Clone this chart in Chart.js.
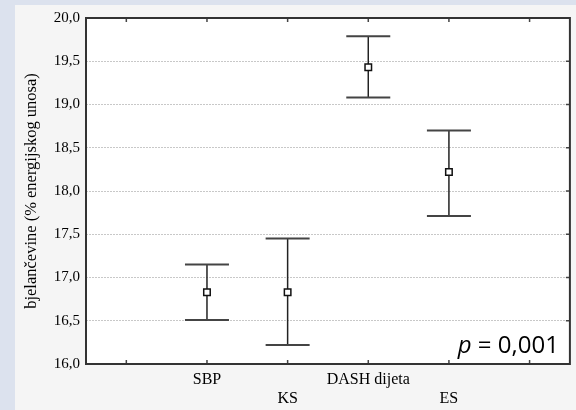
<!DOCTYPE html>
<html>
<head>
<meta charset="utf-8">
<script src="https://cdn.jsdelivr.net/npm/chart.js@4/dist/chart.umd.min.js"></script>
<style>
  html, body { margin: 0; padding: 0; background: #dce2ee; }
  #wrap { width: 576px; height: 410px; }
</style>
</head>
<body>
<div id="wrap"><canvas id="c" width="576" height="410"></canvas></div>
<script>
// grupe prehrane
const categories = ['SBP', 'KS', 'DASH dijeta', 'ES'];
const positions = [1, 2, 3, 4];
// srednje vrijednosti i granice intervala
const means = [16.83, 16.83, 19.43, 18.22];
const lower = [16.51, 16.22, 19.08, 17.71];
const upper = [17.15, 17.45, 19.79, 18.70];
const yTicks = [16.0, 16.5, 17.0, 17.5, 18.0, 18.5, 19.0, 19.5, 20.0];
const pText = '= 0,001';

const serif = '"Liberation Serif", "DejaVu Serif", serif';

// pozadina, okvir, kvačice i intervali
const framePlugin = {
  id: 'frame',
  beforeDraw(chart) {
    const { ctx, chartArea: a, width, height } = chart;
    ctx.save();
    ctx.fillStyle = '#dce2ee';
    ctx.fillRect(0, 0, width, height);
    ctx.fillStyle = '#f5f5f5';
    ctx.fillRect(15, 5, width - 15, height - 5);
    ctx.fillStyle = '#ffffff';
    ctx.fillRect(a.left, a.top, a.right - a.left, a.bottom - a.top);
    ctx.restore();
  },
  beforeDatasetsDraw(chart) {
    const { ctx, scales } = chart;
    const x = scales.x, y = scales.y;
    ctx.save();
    positions.forEach((p, i) => {
      const px = x.getPixelForValue(p);
      const hi = y.getPixelForValue(upper[i]);
      const lo = y.getPixelForValue(lower[i]);
      ctx.strokeStyle = '#222';
      ctx.lineWidth = 1.5;
      ctx.beginPath();
      ctx.moveTo(px, hi);
      ctx.lineTo(px, lo);
      ctx.stroke();
      ctx.strokeStyle = '#444';
      ctx.lineWidth = 2;
      ctx.beginPath();
      ctx.moveTo(px - 22, hi); ctx.lineTo(px + 22, hi);
      ctx.moveTo(px - 22, lo); ctx.lineTo(px + 22, lo);
      ctx.stroke();
    });
    ctx.restore();
  },
  afterDraw(chart) {
    const { ctx, chartArea: a, scales } = chart;
    const x = scales.x, y = scales.y;
    ctx.save();
    ctx.strokeStyle = '#444';
    ctx.lineWidth = 1.5;
    // kvačice
    ctx.beginPath();
    for (let v = 0; v <= 5; v++) {
      const px = x.getPixelForValue(v);
      ctx.moveTo(px, a.bottom); ctx.lineTo(px, a.bottom - 4);
      ctx.moveTo(px, a.top); ctx.lineTo(px, a.top + 4);
    }
    yTicks.forEach(v => {
      const py = y.getPixelForValue(v);
      ctx.moveTo(a.right, py); ctx.lineTo(a.right - 4, py);
    });
    ctx.stroke();
    // okvir
    ctx.strokeStyle = '#333';
    ctx.lineWidth = 2;
    ctx.strokeRect(a.left, a.top, a.right - a.left, a.bottom - a.top);

    // p vrijednost
    ctx.fillStyle = '#000';
    ctx.textBaseline = 'alphabetic';
    ctx.font = '24px "Open Sans", sans-serif';
    const restW = ctx.measureText(' ' + pText).width;
    ctx.textAlign = 'right';
    const xr = a.right - 11, yb = a.bottom - 11;
    ctx.fillText(' ' + pText, xr, yb);
    ctx.font = 'italic 24px "Open Sans", sans-serif';
    ctx.fillText('p', xr - restW, yb);
    ctx.restore();
  }
};

new Chart(document.getElementById('c'), {
  type: 'scatter',
  data: {
    datasets: [{
      data: positions.map((p, i) => ({ x: p, y: means[i] })),
      pointStyle: 'rect',
      pointRadius: 4.6,
      pointHoverRadius: 4.6,
      pointBackgroundColor: '#ffffff',
      pointBorderColor: '#111',
      pointBorderWidth: 1.5
    }]
  },
  options: {
    responsive: false,
    animation: false,
    layout: { padding: { left: 0, top: 18, right: 1, bottom: 0 } },
    plugins: { legend: { display: false }, tooltip: { enabled: false } },
    scales: {
      x: {
        type: 'linear',
        min: -0.5,
        max: 5.5,
        afterBuildTicks: s => { s.ticks = [0, 1, 2, 3, 4, 5].map(v => ({ value: v })); },
        afterFit: s => { s.height = 46; },
        grid: { display: false, drawTicks: false },
        border: { display: false },
        ticks: {
          padding: 6,
          maxRotation: 0,
          autoSkip: false,
          color: '#000',
          font: { family: serif, size: 16 },
          callback: v => {
            const i = positions.indexOf(v);
            if (i < 0) return '';
            return i % 2 === 0 ? categories[i] : ['', categories[i]];
          }
        }
      },
      y: {
        min: 16,
        max: 20,
        afterBuildTicks: s => { s.ticks = yTicks.map(v => ({ value: v })); },
        afterFit: s => { s.width = 86; },
        grid: { color: '#c8c8c8', lineWidth: 1, drawTicks: false },
        border: { display: false, dash: [2, 1] },
        ticks: {
          padding: 6,
          color: '#000',
          font: { family: serif, size: 15 },
          callback: v => v.toFixed(1).replace('.', ',')
        },
        title: {
          display: true,
          text: 'bjelančevine (% energijskog unosa)',
          color: '#000',
          font: { family: serif, size: 16.5 },
          padding: { top: 22, bottom: 0 }
        }
      }
    }
  },
  plugins: [framePlugin]
});
</script>
</body>
</html>
